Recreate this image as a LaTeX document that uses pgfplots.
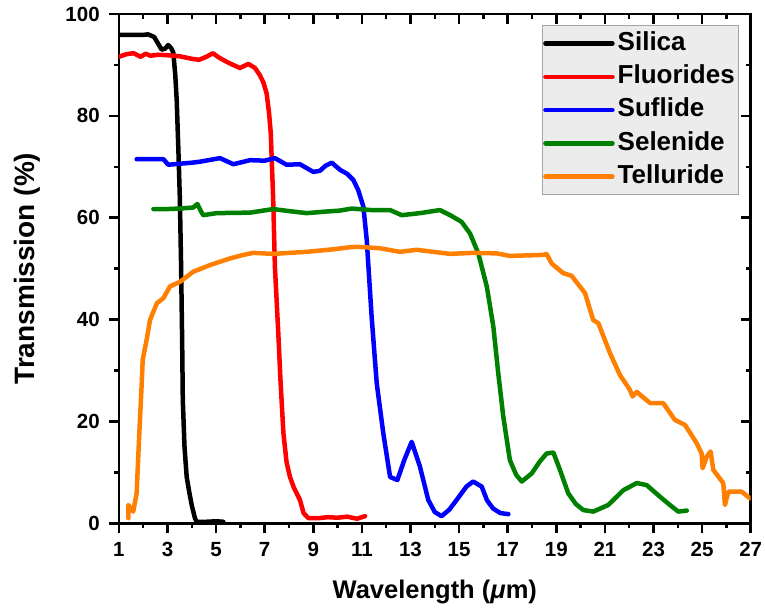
\documentclass[border=0pt]{standalone}
\usepackage{fontspec}
\setmainfont{Liberation Sans}
\usepackage{pgfplots}
\pgfplotsset{compat=1.18}
\definecolor{cOrange}{RGB}{255,128,0}
\definecolor{cGreen}{RGB}{0,128,0}
\definecolor{cRed}{RGB}{255,0,0}
\definecolor{cBlue}{RGB}{0,0,255}
\definecolor{legfill}{RGB}{236,236,236}
\definecolor{legdraw}{RGB}{165,165,165}
\begin{document}
\begin{tikzpicture}
\pgfplotsset{
  common/.style={
    scale only axis, width=631.8pt, height=509.3pt,
    xmin=1, xmax=27, ymin=0, ymax=100,
    xtick={1,3,...,27}, ytick={0,20,...,100},
    minor x tick num=1, minor y tick num=1,
    axis line style={line width=2.5pt},
    tick style={line width=2.5pt, black},
    major tick length=10pt, minor tick length=5pt,
    /pgf/number format/assume math mode=true,
    tick label style={font=\fontsize{20.5}{24}\selectfont\bfseries, inner sep=9pt},
  }
}
\begin{axis}[common, tick align=inside, xtick pos=right, ytick pos=right,
  xticklabels={}, yticklabels={}]
\end{axis}
\begin{axis}[common, name=ax, tick align=outside, xtick pos=left, ytick pos=left,
  every axis plot/.append style={line width=4.5pt, line join=round, line cap=round, no markers},
  xlabel={Wavelength ({\itshape μ}m)},
  ylabel={Transmission (\%)},
  xlabel style={at={(axis description cs:0.5,-0.1467)}, anchor=base, font=\fontsize{25.5}{30}\selectfont\bfseries},
  ylabel style={at={(axis description cs:-0.1328,0.5)}, anchor=base, font=\fontsize{28}{32}\selectfont\bfseries},
  legend style={at={(0.982,0.978)}, anchor=north east, fill=legfill, draw=legdraw, line width=1.2pt,
    inner xsep=1pt, inner ysep=1pt, row sep=0pt, column sep=0pt, font=\fontsize{26}{30}\selectfont\bfseries,
    nodes={inner xsep=3pt, inner ysep=4.5pt, text height=19pt, text depth=5.3pt}},
  legend cell align=left,
  legend image code/.code={
    \path (0pt,0pt) -- (67pt,0pt);
    \draw[#1, line width=4.5pt, line cap=round] (3.25pt,0pt) -- (60.75pt,0pt);},
]
\addplot[black] coordinates {
(1.0,95.9) (1.5,95.9) (2.0,95.9) (2.2,96.0) (2.45,95.5) (2.76,93.0) (2.9,93.2) (3.03,93.9)
(3.15,93.3) (3.24,92.4) (3.32,88) (3.38,83) (3.45,73) (3.51,63.5) (3.56,50.4) (3.6,37)
(3.63,24.2) (3.7,15) (3.79,9.1) (3.9,6) (4.0,3.5) (4.13,1.0) (4.2,0.3) (4.6,0.3) (5.0,0.4) (5.3,0.3)
};
\addlegendentry{Silica}
\addplot[cRed] coordinates {
(1.0,91.6) (1.3,92.1) (1.6,92.3) (1.9,91.6) (2.1,92.2) (2.3,91.8) (2.6,92.0) (3.0,91.9)
(3.5,91.7) (4.0,91.2) (4.3,91.0) (4.6,91.6) (4.87,92.3) (5.1,91.5) (5.4,90.7) (5.7,90.0)
(5.98,89.4) (6.33,90.2) (6.6,89.4) (6.8,88.0) (6.95,86.5) (7.08,84.4) (7.18,80.5) (7.25,76.6)
(7.35,63.5) (7.42,50.4) (7.56,37.3) (7.65,28) (7.77,17.7) (7.9,12) (8.04,9.1) (8.2,7)
(8.45,4.6) (8.6,2) (8.8,1.0) (9.2,1.0) (9.6,1.2) (10.0,1.1) (10.4,1.3) (10.8,0.9) (11.13,1.4)
};
\addlegendentry{Fluorides}
\addplot[cBlue] coordinates {
(1.73,71.5) (2.3,71.5) (2.83,71.5) (3.03,70.4) (3.5,70.6) (4.0,70.8) (4.34,71.0) (5.16,71.7)
(5.71,70.5) (6.4,71.3) (7.0,71.2) (7.42,71.7) (7.9,70.4) (8.45,70.5) (9.0,69.0) (9.27,69.2)
(9.5,70.2) (9.76,70.8) (10.1,69.4) (10.4,68.6) (10.65,67.4) (10.85,65.4) (11.06,62.2)
(11.2,55.6) (11.4,40.6) (11.61,27.5) (11.88,17.7) (12.16,9.1) (12.46,8.5) (12.75,12.5)
(13.05,16.0) (13.39,11.1) (13.73,4.6) (14.0,2.2) (14.28,1.4) (14.6,2.7) (14.9,4.6) (15.3,7.2)
(15.58,8.2) (15.93,7.2) (16.15,4.5) (16.4,2.9) (16.7,2.0) (17.03,1.8)
};
\addlegendentry{Suflide}
\addplot[cGreen] coordinates {
(2.42,61.7) (3.0,61.7) (3.5,61.8) (4.06,62.0) (4.23,62.7) (4.35,61.5) (4.47,60.5) (5.02,60.9)
(6.4,61.0) (7.35,61.7) (8.0,61.3) (8.73,60.9) (9.5,61.2) (10.1,61.4) (10.58,61.8) (11.4,61.5)
(12.16,61.5) (12.64,60.5) (13.39,60.9) (14.21,61.5) (14.63,60.5) (15.1,59.2) (15.45,56.9)
(15.79,53.0) (16.14,46.5) (16.41,38.6) (16.61,29.5) (16.82,20.9) (17.09,12.4) (17.35,9.5)
(17.58,8.2) (17.99,9.8) (18.3,12) (18.6,13.7) (18.88,13.9) (19.15,10.5) (19.49,5.9) (19.8,3.8)
(20.11,2.6) (20.52,2.3) (21.14,3.6) (21.76,6.5) (22.31,7.9) (22.72,7.5) (23.27,5.2) (23.7,3.5)
(24.02,2.3) (24.37,2.5)
};
\addlegendentry{Selenide}
\addplot[cOrange] coordinates {
(1.39,1.0) (1.39,3.6) (1.5,2.8) (1.59,2.3) (1.73,5.9) (1.84,17.7) (1.94,27.5) (1.98,32.1)
(2.14,36.0) (2.28,39.9) (2.56,43.2) (2.83,44.2) (3.1,46.5) (3.51,47.4) (4.06,49.4) (4.75,50.7)
(5.57,52.0) (6.12,52.7) (6.53,53.1) (7.35,52.9) (8.73,53.3) (9.82,53.8) (10.51,54.2) (10.79,54.3)
(11.74,54.0) (12.57,53.3) (13.25,53.7) (14.63,52.9) (15.58,53.1) (16.55,53.0) (17.09,52.5)
(18.47,52.7) (18.6,52.9) (18.81,51.0) (19.29,49.1) (19.63,48.6) (20.18,45.2) (20.52,39.9)
(20.73,39.3) (21.21,33.4) (21.62,29.1) (22.03,26.2) (22.14,24.9) (22.31,25.8) (22.86,23.6)
(23.4,23.6) (23.88,20.3) (24.3,19.3) (24.78,15.7) (24.98,13.7) (25.02,10.8) (25.19,13.1)
(25.35,14.1) (25.46,10.5) (25.87,7.9) (25.94,3.6) (26.08,6.2) (26.63,6.2) (26.97,4.9)
};
\addlegendentry{Telluride}
\end{axis}
\pgfresetboundingbox
\path[use as bounding box] ([xshift=-118.9pt,yshift=-86.7pt]ax.south west) rectangle ([xshift=646.1pt,yshift=523.3pt]ax.south west);
\end{tikzpicture}
\end{document}
